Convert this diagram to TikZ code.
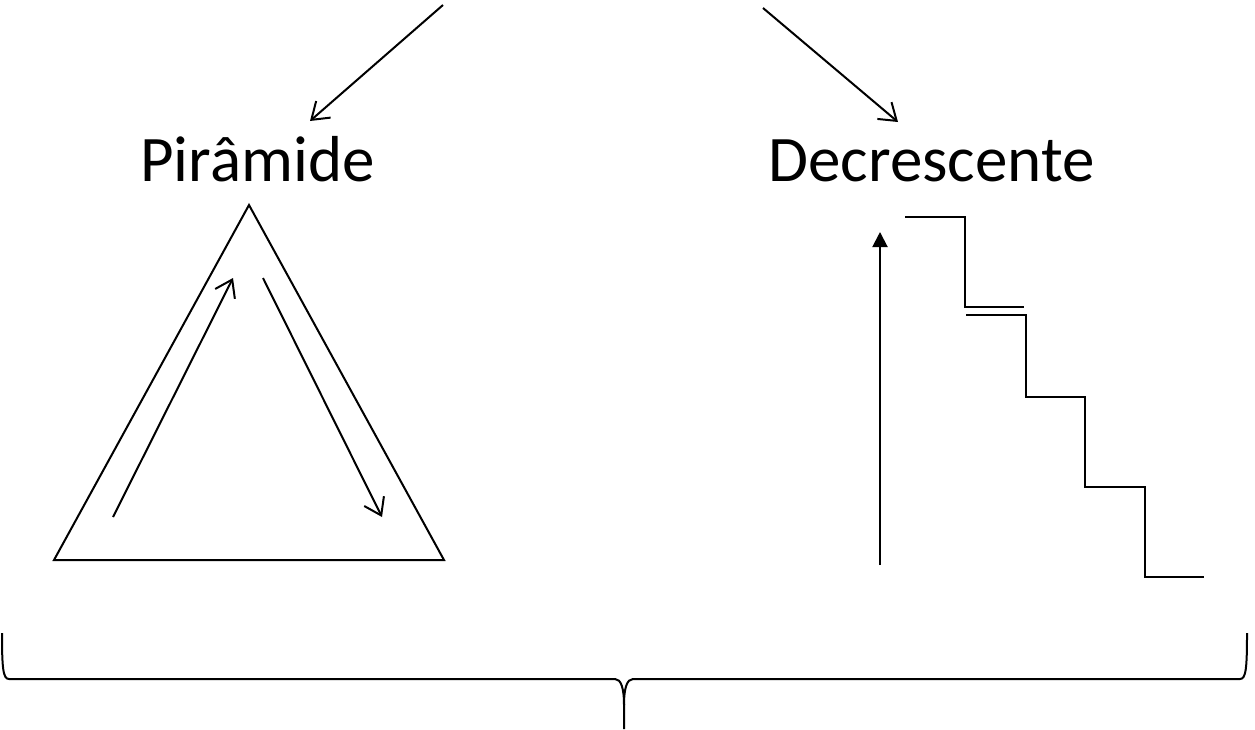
\documentclass[tikz,border=0pt]{standalone}
\usepackage{fontspec}
\setmainfont{Carlito}
\usetikzlibrary{arrows.meta}
\tikzset{
  ln/.style={line width=2pt, line join=miter},
  barb/.style={ln, -{Straight Barb[length=16pt,width=22pt,line width=2pt]}},
  solidtip/.style={ln, -{Triangle[length=15pt,width=15pt]}},
  lbl/.style={font=\fontsize{65}{78}\selectfont, anchor=base, inner sep=0pt}
}
\begin{document}
\begin{tikzpicture}[x=1pt,y=-1pt]
\useasboundingbox (0,0) rectangle (1255,729);
% labels
\node[lbl] (pir) at (257.5,181) {Pirâmide};
\node[lbl] (dec) at (931.5,181) {Decrescente};
% top arrows
\coordinate (s1) at (443,5);
\coordinate (e1) at (310,121);
\coordinate (s2) at (763,8);
\coordinate (e2) at (898,122);
\draw[barb] (s1) -- (e1);
\draw[barb] (s2) -- (e2);
% triangle
\coordinate (ta) at (249,205);
\coordinate (tl) at (54,560);
\coordinate (tr) at (444,560);
\draw[ln] (ta) -- (tl) -- (tr) -- cycle;
\coordinate (u1) at (113,517);
\coordinate (u2) at (233,278);
\coordinate (d1) at (263,278);
\coordinate (d2) at (382,517);
\draw[barb] (u1) -- (u2);
\draw[barb] (d1) -- (d2);
% vertical arrow
\coordinate (v1) at (880,565);
\coordinate (v2) at (880,232);
\draw[solidtip] (v1) -- (v2);
% staircase
\coordinate (st0) at (905,217);
\draw[ln] (st0) -- (965,217) -- (965,307) -- (1024,307);
\coordinate (st1) at (966,315);
\draw[ln] (st1) -- (1026,315) -- (1026,397) -- (1085,397) -- (1085,487) -- (1145,487) -- (1145,577) -- (1204,577);
% brace
\coordinate (bl) at (2,633);
\coordinate (br) at (1247,633);
\coordinate (bt) at (624,729);
\draw[ln] (bl) .. controls (2,668) and (3,679) .. (9,679) -- (615,679)
  .. controls (621,679) and (624,688) .. (624,705) -- (bt);
\draw[ln] (br) .. controls (1247,668) and (1246,679) .. (1240,679) -- (633,679)
  .. controls (627,679) and (624,688) .. (624,705);
\end{tikzpicture}
\end{document}
